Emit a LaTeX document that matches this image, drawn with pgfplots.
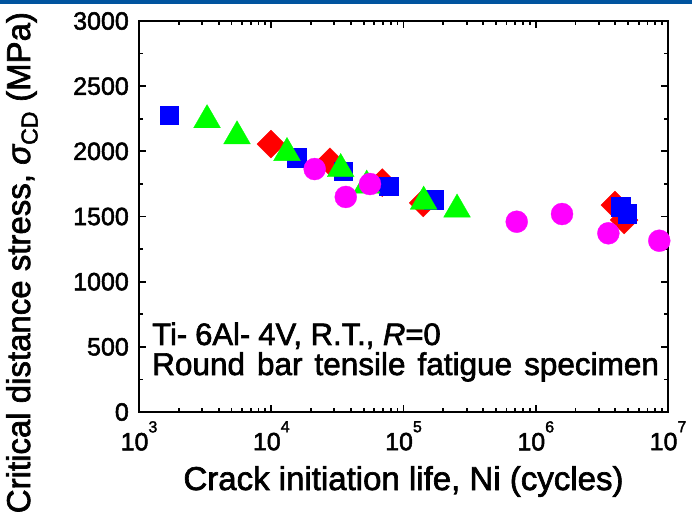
\documentclass[border=0pt]{standalone}
\usepackage{fontspec}
\setmainfont{Liberation Sans}[FakeBold=2]
\usepackage{pgfplots}
\pgfplotsset{compat=1.18}
\definecolor{slideblue}{RGB}{0,84,159}
\definecolor{mkred}{RGB}{255,0,0}
\definecolor{mkblue}{RGB}{0,0,255}
\definecolor{mkgreen}{RGB}{0,255,0}
\definecolor{mkmagenta}{RGB}{255,0,255}
% decade tick label with a raised exponent
\newcommand\decade[1]{10\raisebox{18pt}{\fontsize{16}{16}\selectfont #1}}

\begin{document}
\begin{tikzpicture}[x=1pt,y=1pt]
\path[use as bounding box] (0,0) rectangle (692,521);
\fill[slideblue] (0,517) rectangle (692,521);
\begin{axis}[
  at={(139pt,109pt)}, anchor=south west,
  scale only axis, width=529pt, height=391pt,
  xmode=log, xmin=1e3, xmax=1e7, ymin=0, ymax=3000,
  xtick={1e3,1e4,1e5,1e6,1e7},
  xticklabels={\decade{3},\decade{4},\decade{5},\decade{6},\decade{7}},
  ytick={0,500,1000,1500,2000,2500,3000},
  yticklabels={0,500,1000,1500,2000,2500,3000},
  minor ytick={250,750,1250,1750,2250,2750},
  axis line style={line width=2.6pt},
  every tick/.style={black, line width=1.8pt},
  major tick length=7pt, minor tick length=4pt,
  tick align=inside,
  axis on top,
  ticklabel style={font=\fontsize{25}{25}\selectfont},
  yticklabel style={anchor=east, inner sep=0pt, xshift=-10pt},
  xticklabel style={anchor=north, inner sep=0pt, yshift=-9pt},
  xlabel={Crack initiation life, Ni (cycles)},
  ylabel={Critical distance stress, {\itshape σ}\textsubscript{CD} (MPa)},
  label style={font=\fontsize{33}{33}\selectfont},
  xlabel style={at={(axis description cs:0.5,-0.1995)}, anchor=base},
  ylabel style={at={(axis description cs:-0.206,0.382)}, anchor=base},
]
% red diamonds
\addplot[only marks, mark=square*, mark size=9.9pt,
  mark options={rotate=45, fill=mkred, draw=mkred, line width=0.3pt}] coordinates {
  (9950,2056) (27800,1920) (69000,1760) (141000,1604) (3.97e6,1588) (4.65e6,1473)};
% blue squares
\addplot[only marks, mark=square*, mark size=9.2pt,
  mark options={fill=mkblue, draw=mkblue, line width=0.3pt}] coordinates {
  (1690,2279) (15560,1951) (34870,1847) (77300,1734) (169000,1629) (4.39e6,1575) (4.92e6,1522)};
% green triangles
\addplot[only marks, mark=triangle*, mark size=15.5pt,
  mark options={fill=mkgreen, draw=mkgreen, line width=0.3pt}] coordinates {
  (3270,2240) (5510,2116) (13150,1988) (33500,1865) (52700,1738) (142000,1615) (254000,1554)};
% magenta circles
\addplot[only marks, mark=*, mark size=11pt,
  mark options={fill=mkmagenta, draw=mkmagenta, line width=0.3pt}] coordinates {
  (21300,1864) (36600,1650) (55800,1749) (718000,1460) (1.58e6,1519) (3.54e6,1371) (8.59e6,1314)};
\node[anchor=base west, inner sep=0pt, font=\fontsize{31}{31}\selectfont]
  at (axis description cs:0.0246,0.1714) {Ti-\kern8pt 6Al-\kern8pt 4V, R.T., \textit{R}=0};
\node[anchor=base west, inner sep=0pt, font=\fontsize{31.5}{31.5}\selectfont]
  at (axis description cs:0.0246,0.0946) {\spaceskip=12pt Round bar tensile fatigue specimen};
\end{axis}
\end{tikzpicture}
\end{document}
